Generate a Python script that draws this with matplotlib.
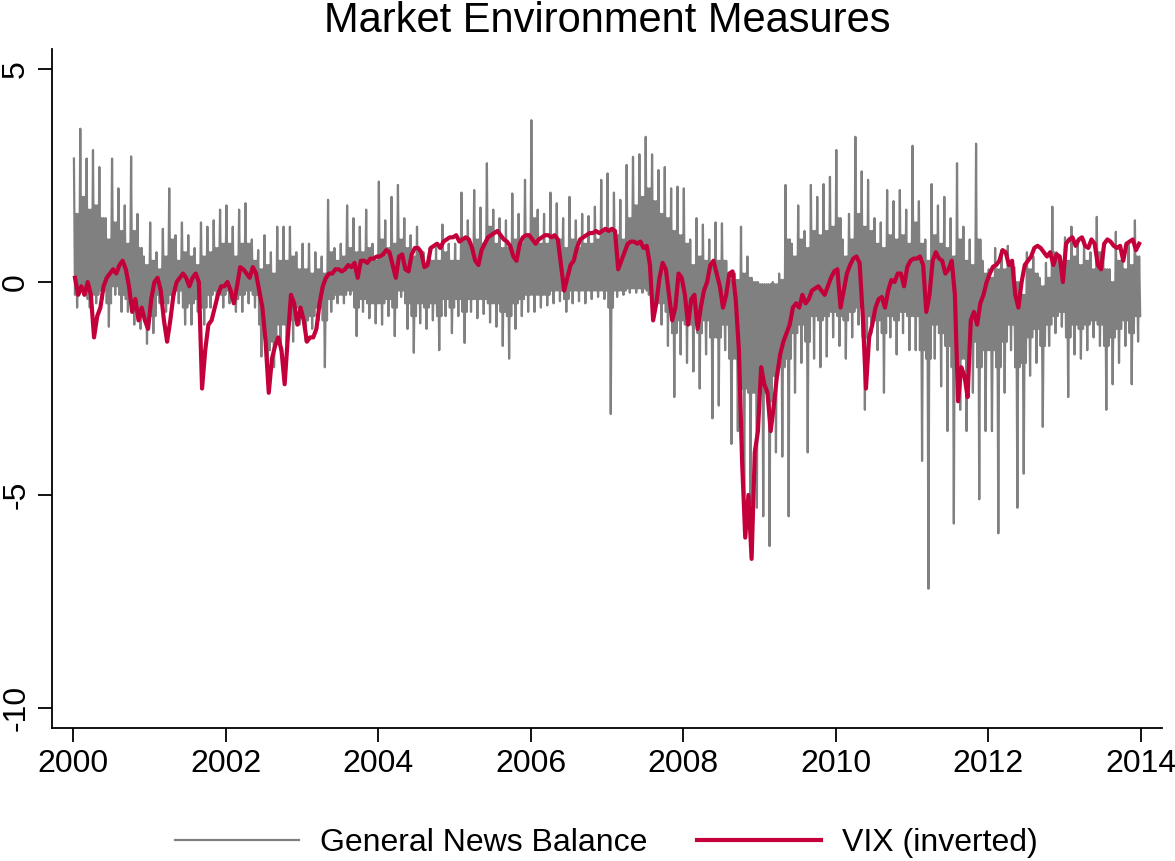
import numpy as np
import matplotlib
matplotlib.use('Agg')
import matplotlib.pyplot as plt

plt.rcParams['font.family'] = ['Liberation Sans', 'DejaVu Sans']

# half-month readings of the inverted VIX, Jan 2000 - Dec 2013 (two per month)
vix_inv = [
    0.1, -0.3, -0.1, -0.3, 0.0, -0.3, -1.3, -0.8, -0.6, -0.1, 0.1, 0.2,
    0.3, 0.2, 0.4, 0.5, 0.3, -0.1, -0.7, -0.4, -0.9, -0.6, -0.9, -1.1,
    -0.4, 0.0, 0.1, -0.2, -0.9, -1.4, -0.9, -0.3, 0.0, 0.1, 0.2, 0.1,
    -0.1, 0.1, 0.2, 0.0, -2.5, -1.6, -1.0, -0.9, -0.6, -0.3, -0.1, -0.1,
    0.0, -0.2, -0.5, -0.1, 0.35, 0.3, 0.2, 0.1, 0.35, 0.2, -0.2, -0.6,
    -1.4, -2.6, -1.8, -1.5, -1.3, -1.6, -2.4, -1.3, -0.3, -0.5, -1.0, -0.6,
    -0.9, -1.4, -1.3, -1.3, -1.1, -0.5, -0.1, 0.1, 0.2, 0.2, 0.3, 0.3,
    0.25, 0.3, 0.4, 0.35, 0.45, 0.1, 0.5, 0.5, 0.45, 0.55, 0.55, 0.6,
    0.6, 0.65, 0.75, 0.7, 0.4, 0.1, 0.6, 0.65, 0.3, 0.25, 0.65, 0.8,
    0.8, 0.7, 0.35, 0.4, 0.8, 0.85, 0.9, 0.8, 0.95, 1.0, 1.05, 1.05,
    1.1, 0.95, 1.0, 1.05, 1.0, 0.8, 0.5, 0.4, 0.75, 0.9, 1.05, 1.1,
    1.15, 1.2, 1.1, 1.0, 0.95, 0.85, 0.6, 0.5, 0.9, 1.05, 1.1, 1.1,
    1.0, 0.9, 1.0, 1.05, 1.1, 1.1, 1.05, 1.1, 1.0, 0.4, -0.2, 0.1,
    0.4, 0.5, 0.8, 1.0, 1.05, 1.1, 1.15, 1.15, 1.2, 1.15, 1.2, 1.25,
    1.2, 1.25, 1.2, 0.3, 0.5, 0.7, 0.9, 0.95, 0.95, 0.9, 0.95, 0.8,
    0.85, 0.4, -0.9, -0.5, 0.1, 0.45, 0.3, -0.3, -0.9, -0.6, 0.2, 0.1,
    -0.3, -1.0, -0.4, -0.3, -1.1, -0.6, -0.2, 0.0, 0.4, 0.5, 0.2, -0.1,
    -0.6, -0.3, 0.2, 0.25, -0.4, -1.6, -4.2, -6.0, -5.0, -6.5, -4.0, -3.5,
    -2.0, -2.4, -2.6, -3.5, -2.9, -2.2, -1.7, -1.4, -1.2, -1.0, -0.6, -0.5,
    -0.6, -0.3, -0.5, -0.4, -0.2, -0.15, -0.1, -0.2, -0.3, -0.1, 0.1, 0.25,
    0.3, -0.6, -0.2, 0.2, 0.4, 0.55, 0.6, 0.45, -0.8, -2.5, -1.3, -1.0,
    -0.6, -0.4, -0.35, -0.6, -0.2, 0.05, 0.0, 0.2, 0.2, -0.1, 0.35, 0.5,
    0.55, 0.55, 0.6, 0.4, -0.7, -0.3, 0.5, 0.7, 0.55, 0.5, 0.2, 0.3,
    0.5, -0.3, -2.8, -2.0, -2.2, -2.7, -0.9, -0.7, -1.0, -0.5, -0.3, 0.0,
    0.2, 0.36, 0.4, 0.5, 0.75, 0.7, 0.4, 0.5, -0.3, -0.6, 0.0, 0.4,
    0.5, 0.6, 0.8, 0.85, 0.8, 0.7, 0.6, 0.7, 0.4, 0.65, 0.6, 0.0,
    0.9, 1.0, 1.05, 0.85, 1.0, 1.05, 0.85, 0.8, 1.0, 0.9, 0.4, 0.3,
    0.9, 1.0, 0.95, 0.85, 0.8, 0.85, 0.5, 0.9, 0.95, 1.0, 0.75, 0.9,
]

# monthly spike tops / bottoms of the news balance
news_high = [
    2.9, 3.6, 2.9, 3.1, 2.7, 1.5, 2.9, 2.2, 1.8, 2.95, 1.6, 0.6,
    1.4, 0.7, 1.25, 2.2, 1.1, 1.4, 1.1, 0.8, 1.4, 1.3, 1.45, 1.7,
    1.8, 1.3, 1.7, 1.85, 1.0, 0.75, 1.1, 0.7, 1.3, 1.3, 1.3, 0.7,
    0.9, 0.9, 0.7, 0.6, 1.93, 0.8, 0.9, 1.8, 1.5, 1.3, 1.7, 0.9,
    2.36, 1.45, 2.0, 2.28, 1.5, 1.1, 1.3, 0.7, 0.8, 0.8, 1.35, 0.9,
    0.9, 2.1, 1.45, 2.16, 1.75, 2.79, 1.7, 1.5, 1.45, 2.08, 1.6, 2.4,
    3.8, 1.7, 1.6, 2.1, 1.85, 1.5, 2.0, 1.45, 1.6, 1.55, 1.77, 2.4,
    2.55, 2.1, 1.93, 2.75, 2.94, 3.0, 3.41, 3.0, 2.63, 2.7, 2.2, 2.24,
    2.2, 1.0, 1.5, 1.35, 1.0, 1.4, 1.38, 0.2, 0.2, 1.3, 0.6, 0.0,
    -0.05, -0.05, 0.0, 0.2, 2.28, 0.9, 1.8, 1.2, 2.28, 2.0, 2.3, 2.47,
    3.1, 1.0, 1.6, 3.41, 2.6, 2.4, 1.5, 1.4, 2.16, 1.9, 2.16, 1.7,
    3.2, 1.9, 1.0, 2.3, 1.8, 2.0, 1.5, 2.79, 1.3, 1.0, 3.25, 0.5,
    0.3, 0.8, 0.75, 0.85, 0.35, -0.2, 0.7, 0.6, 0.1, 0.45, 1.77, 0.6,
    1.05, 1.3, 0.9, 1.0, 0.7, 1.53, 0.75, 0.3, 1.18, 0.75, 0.9, 1.45,
]

news_low = [
    -0.6, -0.3, -0.6, -0.5, -0.4, -1.05, -0.3, -0.7, -0.7, -1.0, -1.1, -1.45,
    -1.2, -0.5, -0.7, -0.5, -0.5, -1.0, -1.0, -0.7, -1.0, -0.6, -0.5, -0.6,
    -0.5, -0.7, -0.7, -0.5, -0.6, -1.75, -2.3, -2.0, -1.6, -1.5, -1.4, -1.0,
    -1.4, -1.1, -0.9, -2.0, -0.7, -0.5, -0.5, -0.3, -1.27, -0.7, -0.85, -0.97,
    -1.0, -0.8, -1.27, -0.35, -1.1, -1.66, -0.97, -1.1, -0.9, -1.6, -0.8, -1.2,
    -0.8, -1.43, -0.7, -0.85, -0.75, -0.95, -1.05, -1.5, -1.8, -1.1, -0.8, -0.7,
    -0.7, -0.6, -0.55, -0.5, -0.45, -0.7, -0.5, -0.45, -0.5, -0.4, -0.35, -0.4,
    -3.1, -0.35, -0.3, -0.25, -0.25, -0.25, -0.3, -0.7, -1.0, -1.5, -2.7, -1.7,
    -1.9, -2.1, -2.5, -1.7, -3.2, -2.9, -1.6, -3.8, -3.5, -5.0, -5.2, -5.3,
    -5.5, -6.2, -4.0, -4.1, -5.5, -2.6, -1.9, -4.0, -1.8, -2.0, -1.75, -1.3,
    -1.5, -1.8, -1.3, -1.0, -3.0, -1.2, -1.6, -2.6, -1.3, -1.7, -1.2, -1.6,
    -1.6, -4.2, -7.2, -1.8, -2.45, -3.5, -5.67, -3.0, -3.5, -2.6, -5.1, -3.5,
    -3.5, -5.9, -2.6, -1.6, -5.3, -4.5, -2.2, -1.9, -3.4, -1.5, -1.2, -1.05,
    -2.7, -1.7, -1.8, -1.6, -1.3, -1.5, -3.0, -2.4, -1.9, -1.5, -2.4, -1.4,
]

# monthly dense band of the news balance (upper / lower edge)
core_high = [
    1.6, 2.0, 1.7, 1.8, 1.5, 1.0, 1.4, 1.2, 0.9, 1.2, 0.8, 0.4,
    0.5, 0.3, 0.6, 1.0, 0.5, 0.7, 0.6, 0.4, 0.6, 0.7, 0.8, 0.9,
    0.9, 0.6, 0.9, 0.9, 0.5, 0.3, 0.4, 0.2, 0.5, 0.5, 0.6, 0.3,
    0.3, 0.2, 0.3, 0.2, 0.7, 0.5, 0.6, 0.8, 0.7, 0.7, 0.8, 0.5,
    1.0, 0.8, 0.9, 1.0, 0.8, 0.6, 0.7, 0.4, 0.5, 0.5, 0.7, 0.5,
    0.5, 1.0, 0.8, 1.0, 0.9, 1.3, 0.9, 0.8, 0.8, 1.0, 0.9, 1.1,
    1.5, 0.9, 0.9, 1.1, 1.0, 0.8, 1.0, 0.8, 0.9, 0.9, 1.0, 1.2,
    1.2, 1.1, 1.0, 1.5, 1.8, 2.0, 2.2, 1.9, 1.6, 1.5, 1.2, 1.1,
    0.9, 0.4, 0.6, 0.5, 0.4, 0.5, 0.5, 0.05, 0.05, 0.2, 0.1, 0.0,
    -0.05, -0.05, -0.05, 0.05, 1.0, 0.6, 1.0, 0.8, 1.2, 1.1, 1.2, 1.3,
    1.5, 0.6, 1.0, 1.6, 1.3, 1.2, 0.9, 0.8, 1.1, 1.0, 1.1, 0.9,
    1.4, 0.9, 0.5, 1.1, 0.9, 0.8, 0.6, 1.0, 0.5, 0.4, 1.0, 0.2,
    0.1, 0.3, 0.3, 0.4, 0.0, -0.3, 0.3, 0.2, -0.1, 0.1, 0.7, 0.2,
    0.5, 0.6, 0.4, 0.5, 0.3, 0.7, 0.3, 0.0, 0.5, 0.3, 0.4, 0.6,
]
core_low = [
    -0.3, -0.2, -0.4, -0.3, -0.2, -0.5, -0.1, -0.3, -0.4, -0.6, -0.7, -0.9,
    -0.8, -0.3, -0.5, -0.3, -0.2, -0.6, -0.5, -0.4, -0.6, -0.3, -0.2, -0.3,
    -0.2, -0.4, -0.3, -0.2, -0.3, -1.0, -1.6, -1.4, -1.0, -1.0, -0.9, -0.6,
    -0.9, -0.8, -0.6, -0.9, -0.4, -0.3, -0.3, -0.2, -0.6, -0.4, -0.5, -0.5,
    -0.5, -0.4, -0.6, -0.2, -0.5, -0.8, -0.5, -0.6, -0.5, -0.8, -0.4, -0.6,
    -0.4, -0.7, -0.4, -0.4, -0.4, -0.5, -0.5, -0.7, -0.8, -0.5, -0.4, -0.3,
    -0.3, -0.3, -0.3, -0.2, -0.2, -0.4, -0.2, -0.2, -0.2, -0.2, -0.2, -0.2,
    -0.6, -0.2, -0.2, -0.15, -0.15, -0.15, -0.2, -0.4, -0.5, -0.7, -1.2, -0.9,
    -1.0, -1.0, -1.2, -0.9, -1.3, -1.3, -1.0, -1.8, -1.8, -2.5, -2.6, -2.6,
    -2.6, -2.8, -2.2, -2.0, -1.8, -1.2, -1.0, -1.4, -0.8, -0.9, -0.8, -0.7,
    -0.8, -0.9, -0.7, -0.6, -1.3, -0.8, -0.9, -1.2, -0.8, -0.9, -0.7, -0.8,
    -0.8, -1.6, -1.8, -1.0, -1.2, -1.5, -2.0, -1.8, -1.8, -1.4, -2.0, -1.6,
    -1.6, -2.0, -1.4, -1.0, -2.0, -1.9, -1.3, -1.1, -1.5, -1.0, -0.8, -0.7,
    -1.3, -1.0, -1.1, -1.0, -0.9, -1.0, -1.5, -1.3, -1.1, -0.9, -1.2, -0.8,
]

year_ticks = [2000, 2002, 2004, 2006, 2008, 2010, 2012, 2014]

t_vix = 2000 + (np.arange(len(vix_inv)) + 0.5) / 24

# news series: per month spike up, dense band, spike down
months = np.arange(len(news_high))
t_news, news = [], []
for m in months:
    vals = [news_high[m], core_low[m], core_high[m], news_low[m], core_high[m], core_low[m]]
    for k, v in enumerate(vals):
        t_news.append(2000 + (m + (k + 0.5) / len(vals)) / 12)
        news.append(v)

fig = plt.figure(figsize=(11.75, 8.61), dpi=100)
ax = fig.add_axes([0.0443, 0.1545, 0.9447, 0.7885])

ax.plot(t_news, news, color='#808080', lw=1.6, label='General News Balance')
ax.plot(t_vix, vix_inv, color='#c4003a', lw=3.0, label='VIX (inverted)')

ax.set_xlim(1999.72, 2014.28)
ax.set_ylim(-10.47, 5.47)
ax.set_xticks(year_ticks)
ax.set_xticklabels([str(y) for y in year_ticks])
ax.set_yticks([-10, -5, 0, 5])
ax.set_yticklabels(['-10', '-5', '0', '5'], rotation=90, va='center')

for s in ['top', 'right']:
    ax.spines[s].set_visible(False)
for s in ['left', 'bottom']:
    ax.spines[s].set_linewidth(1.3)
ax.tick_params(axis='both', direction='out', length=10, width=1.3, labelsize=23, pad=5)

ax.set_title('Market Environment Measures', fontsize=30, pad=12)

fig.legend(loc='lower center', bbox_to_anchor=(0.516, -0.03), ncol=2, frameon=False,
           fontsize=23, handlelength=3.9, handletextpad=0.65, columnspacing=1.55)

fig.savefig('out.png', dpi=100)
